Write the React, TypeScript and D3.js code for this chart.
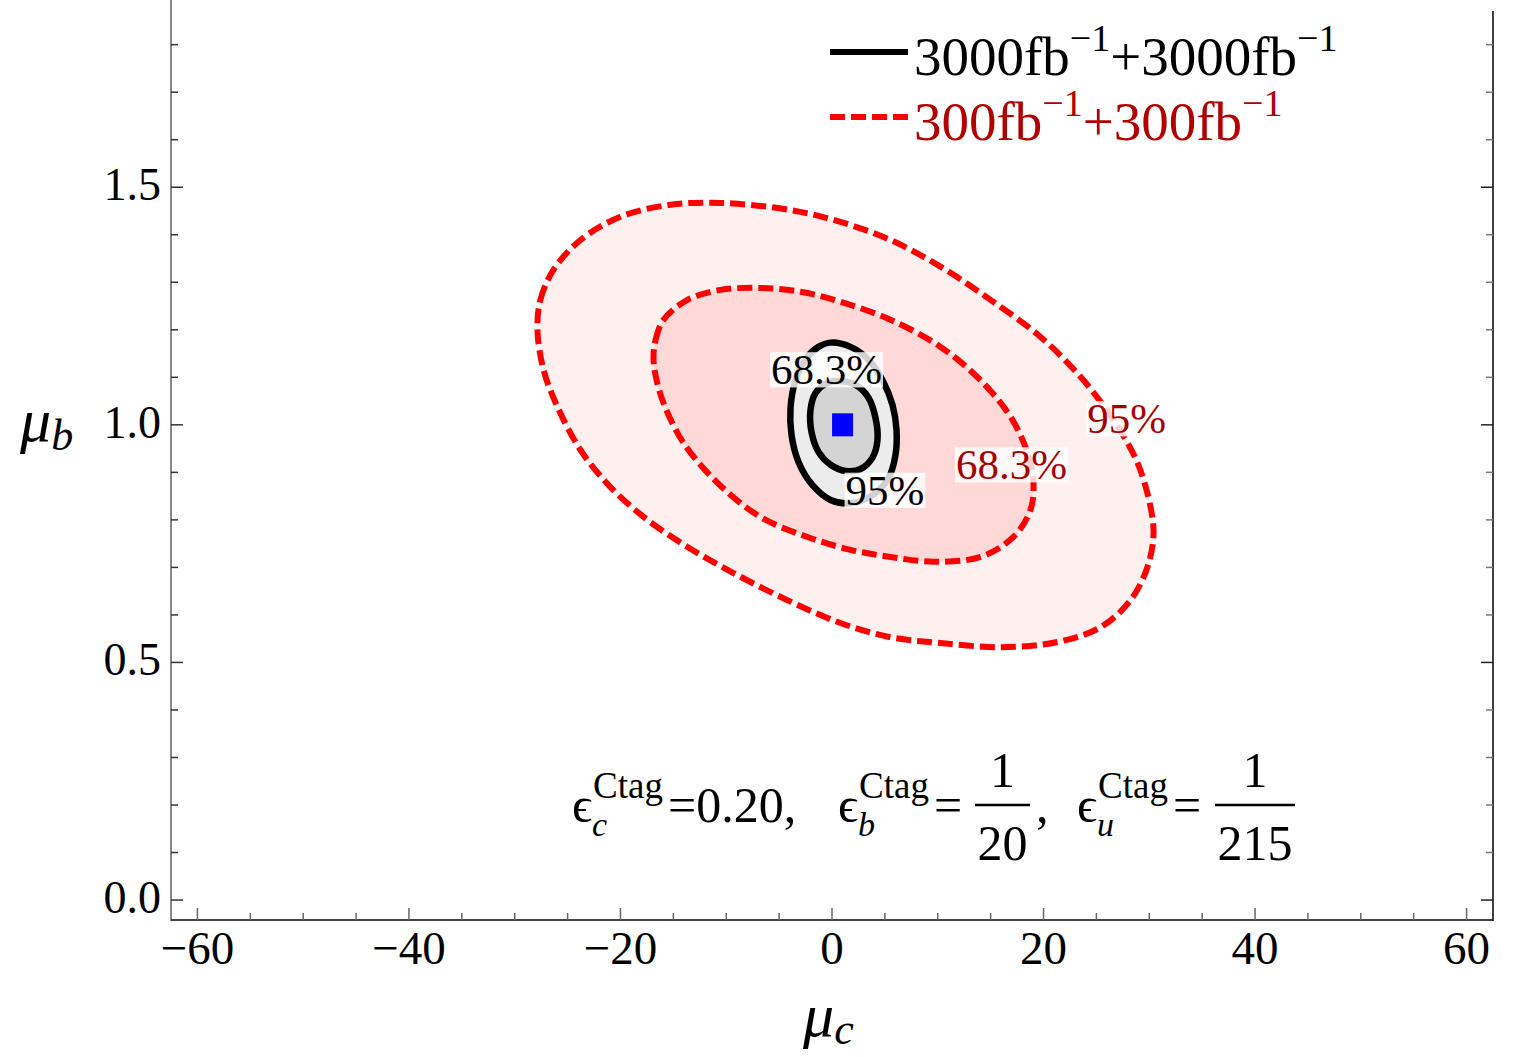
import React, { useEffect, useRef } from 'react';
import * as d3 from 'd3';

const W = 1514;
const H = 1057;
const SERIF = "'Liberation Serif', 'Times New Roman', serif";

// Axis ticks
const xMajorTicks = [-60, -40, -20, 0, 20, 40, 60];
const xTickLabels = ['\u221260', '\u221240', '\u221220', '0', '20', '40', '60'];
const xMinorStep = 5;
const yMajorTicks = [0, 0.5, 1.0, 1.5];
const yTickLabels = ['0.0', '0.5', '1.0', '1.5'];
const yMinorStep = 0.1;

// Best-fit point (mu_c, mu_b)
const bestFit: [number, number] = [1.0, 1.0];

// 300 fb^-1 + 300 fb^-1 : 95% region boundary (mu_c, mu_b)
const red95: [number, number][] = [
  [-27.85, 1.200], [-27.57, 1.263], [-26.34, 1.326], [-23.78, 1.389], [-20.0, 1.438],
  [-15.27, 1.463], [-10.54, 1.467], [-3.92, 1.452], [0.80, 1.427], [5.53, 1.389],
  [10.26, 1.333], [14.99, 1.263], [19.72, 1.185], [23.50, 1.101], [26.62, 1.010],
  [28.89, 0.920], [30.12, 0.827], [30.40, 0.768], [29.83, 0.701], [28.23, 0.631],
  [25.39, 0.574], [21.32, 0.543], [15.93, 0.532], [10.26, 0.541], [5.53, 0.553],
  [0.80, 0.583], [-4.21, 0.631], [-9.31, 0.688], [-13.66, 0.743], [-17.45, 0.800],
  [-20.95, 0.869], [-23.78, 0.947], [-25.96, 1.038], [-27.28, 1.116],
];

// 300 fb^-1 + 300 fb^-1 : 68.3% region boundary
const red68: [number, number][] = [
  [-16.88, 1.142], [-16.69, 1.178], [-15.93, 1.221], [-13.66, 1.263], [-10.54, 1.284],
  [-6.76, 1.288], [-2.98, 1.280], [0.80, 1.259], [5.53, 1.221], [10.26, 1.164],
  [14.04, 1.094], [16.88, 1.017], [18.49, 0.941], [19.05, 0.878], [18.77, 0.821],
  [17.16, 0.764], [14.04, 0.722], [9.60, 0.712], [5.53, 0.722], [1.75, 0.737],
  [-2.32, 0.764], [-6.76, 0.806], [-10.83, 0.878], [-14.04, 0.962], [-15.93, 1.046],
  [-16.69, 1.105],
];

// 3000 fb^-1 + 3000 fb^-1 : 95% region boundary
const black95: [number, number][] = [
  [-0.14, 1.173], [1.75, 1.164], [3.45, 1.137], [4.78, 1.094], [5.72, 1.042],
  [6.10, 0.989], [6.00, 0.936], [5.34, 0.888], [3.83, 0.852], [1.75, 0.835],
  [-0.14, 0.842], [-1.84, 0.873], [-3.17, 0.922], [-3.83, 0.979], [-3.92, 1.036],
  [-3.45, 1.094], [-2.41, 1.141], [-1.28, 1.164],
];

// 3000 fb^-1 + 3000 fb^-1 : 68.3% region boundary
const black68: [number, number][] = [
  [0.61, 1.092], [2.22, 1.084], [3.45, 1.057], [4.11, 1.015], [4.30, 0.968],
  [3.83, 0.931], [2.70, 0.907], [1.28, 0.903], [-0.14, 0.916], [-1.28, 0.943],
  [-1.94, 0.985], [-2.03, 1.032], [-1.56, 1.067], [-0.61, 1.086],
];

// Contour labels: [mu_c, mu_b, text, colour]
const contourLabels: [number, number, string, string][] = [
  [-0.52, 1.1154, '68.3%', '#000000'],
  [5.01, 0.8618, '95%', '#000000'],
  [27.85, 1.0123, '95%', '#a40000'],
  [16.97, 0.9155, '68.3%', '#a40000'],
];

// Legend: integrated luminosities (fb^-1)
const legendLumi = ['3000', '300'];
const legendColors = ['#000000', '#b00000'];
const legendLine = ['#000000', '#ff0000'];

// Tagging efficiencies shown in the annotation
const effFlavours = ['c', 'b', 'u'];

export default function App() {
  const ref = useRef<SVGSVGElement>(null);

  useEffect(() => {
    const svg = d3.select(ref.current);
    svg.selectAll('*').remove();

    const left = 171, right = 1493, top = 0, bottom = 920;
    const x = d3.scaleLinear().domain([-62.5, 62.5]).range([left, right]);
    const y = d3.scaleLinear().domain([-0.042, 1.894]).range([bottom, top]);

    const line = d3
      .line<[number, number]>()
      .x((d) => x(d[0]))
      .y((d) => y(d[1]))
      .curve(d3.curveCatmullRomClosed.alpha(0.5));

    svg.append('rect').attr('width', W).attr('height', H).attr('fill', '#fff');

    // Red (300 fb^-1) regions
    svg.append('path').attr('d', line(red95)).attr('fill', '#fff0f0');
    svg.append('path').attr('d', line(red68)).attr('fill', '#ffd8d8');
    [red95, red68].forEach((c) => {
      svg
        .append('path')
        .attr('d', line(c))
        .attr('fill', 'none')
        .attr('stroke', '#ff0000')
        .attr('stroke-width', 6)
        .attr('stroke-dasharray', '15,6');
    });

    // Black (3000 fb^-1) regions
    svg.append('path').attr('d', line(black95)).attr('fill', '#ececec');
    svg.append('path').attr('d', line(black68)).attr('fill', '#d4d4d4');
    [black95, black68].forEach((c) => {
      svg
        .append('path')
        .attr('d', line(c))
        .attr('fill', 'none')
        .attr('stroke', '#000')
        .attr('stroke-width', 6.5);
    });

    // Contour labels with translucent boxes
    const lfs = 43;
    contourLabels.forEach(([cx, cy, txt, col]) => {
      const px = x(cx);
      const base = y(cy) + 14;
      const g = svg.append('g');
      const rect = g.append('rect');
      const t = g
        .append('text')
        .attr('x', px)
        .attr('y', base)
        .attr('text-anchor', 'middle')
        .attr('font-family', SERIF)
        .attr('font-size', lfs)
        .attr('fill', col)
        .text(txt);
      const bb = (t.node() as SVGTextElement).getBBox();
      rect
        .attr('x', bb.x - 1)
        .attr('y', base - 0.74 * lfs)
        .attr('width', bb.width + 2)
        .attr('height', 0.82 * lfs)
        .attr('fill', '#fff')
        .attr('fill-opacity', 0.82);
    });

    // Best-fit marker
    svg
      .append('rect')
      .attr('x', x(bestFit[0]) - 10.5)
      .attr('y', y(bestFit[1]) - 11.5)
      .attr('width', 21)
      .attr('height', 23)
      .attr('fill', '#0000ff');

    // Frame lines
    svg.append('line').attr('x1', left).attr('x2', left).attr('y1', 0).attr('y2', bottom + 1)
      .attr('stroke', '#888').attr('stroke-width', 2);
    svg.append('line').attr('x1', left).attr('x2', right).attr('y1', bottom).attr('y2', bottom)
      .attr('stroke', '#444').attr('stroke-width', 2);
    svg.append('line').attr('x1', right).attr('x2', right).attr('y1', 11).attr('y2', bottom + 1)
      .attr('stroke', '#111').attr('stroke-width', 1.6);

    // X ticks
    const xMinor = d3.range(-60, 60.001, xMinorStep);
    xMinor.forEach((v) => {
      const major = xMajorTicks.includes(Math.round(v));
      svg.append('line')
        .attr('x1', x(v)).attr('x2', x(v))
        .attr('y1', bottom).attr('y2', bottom - (major ? 12 : 7))
        .attr('stroke', '#666').attr('stroke-width', 1.5);
    });
    xMajorTicks.forEach((v, i) => {
      svg.append('text')
        .attr('x', x(v)).attr('y', 964)
        .attr('text-anchor', 'middle')
        .attr('font-family', SERIF).attr('font-size', 47)
        .attr('fill', '#000')
        .text(xTickLabels[i]);
    });

    // Y ticks (left axis and right frame)
    const yMinor = d3.range(0, 1.9, yMinorStep).filter((v) => y(v) > 5);
    yMinor.forEach((v) => {
      const major = yMajorTicks.some((m) => Math.abs(m - v) < 1e-6);
      const len = major ? 12 : 7;
      svg.append('line')
        .attr('x1', left).attr('x2', left + len)
        .attr('y1', y(v)).attr('y2', y(v))
        .attr('stroke', '#333').attr('stroke-width', 1.5);
      svg.append('line')
        .attr('x1', right).attr('x2', right - len)
        .attr('y1', y(v)).attr('y2', y(v))
        .attr('stroke', major ? '#222' : '#777').attr('stroke-width', 1.5);
    });
    yMajorTicks.forEach((v, i) => {
      svg.append('text')
        .attr('x', 161).attr('y', y(v) + 13)
        .attr('text-anchor', 'end')
        .attr('font-family', SERIF).attr('font-size', 46)
        .attr('fill', '#000')
        .text(yTickLabels[i]);
    });

    // Axis titles
    const xt = svg.append('text')
      .attr('x', 803).attr('y', 1036)
      .attr('font-family', SERIF).attr('font-style', 'italic')
      .attr('font-size', 62).attr('fill', '#000');
    xt.append('tspan').text('\u03bc');
    xt.append('tspan').attr('dy', 8).attr('font-size', 44).text('c');

    const yt = svg.append('text')
      .attr('x', 20).attr('y', 441)
      .attr('font-family', SERIF).attr('font-style', 'italic')
      .attr('font-size', 62).attr('fill', '#000');
    yt.append('tspan').text('\u03bc');
    yt.append('tspan').attr('dy', 9).attr('font-size', 44).text('b');

    // Legend
    const legY = [52, 117];
    legendLumi.forEach((lum, i) => {
      svg.append('line')
        .attr('x1', 830).attr('x2', 908)
        .attr('y1', legY[i]).attr('y2', legY[i])
        .attr('stroke', legendLine[i]).attr('stroke-width', 6)
        .attr('stroke-dasharray', i === 1 ? '15,6' : null);
      const t = svg.append('text')
        .attr('x', 914).attr('y', legY[i] + 23)
        .attr('font-family', SERIF).attr('font-size', 55)
        .attr('fill', legendColors[i]);
      t.append('tspan').text(`${lum}fb`);
      t.append('tspan').attr('dy', -24).attr('font-size', 38).text('\u22121');
      t.append('tspan').attr('dy', 24).text(`+${lum}fb`);
      t.append('tspan').attr('dy', -24).attr('font-size', 38).text('\u22121');
    });

    // Tagging efficiencies annotation: each epsilon with its super/subscript is one text
    const ann = svg.append('g').attr('font-family', SERIF).attr('fill', '#000');
    const base = 822;
    const eps = (x0: number, sub: string, tail: string) => {
      const t = ann.append('text').attr('x', x0).attr('y', base).attr('font-size', 50);
      t.append('tspan').text('\u03f5');
      t.append('tspan').attr('x', x0 + 21).attr('dy', -24).attr('font-size', 37).text('Ctag');
      t.append('tspan').attr('x', x0 + 20).attr('dy', 38).attr('font-size', 34)
        .attr('font-style', 'italic').text(sub);
      t.append('tspan').attr('x', x0 + 96).attr('dy', -14).text(tail);
    };
    const frac = (x0: number, x1: number, num: string, den: string) => {
      const cx = (x0 + x1) / 2;
      ann.append('line').attr('x1', x0).attr('x2', x1).attr('y1', 805).attr('y2', 805)
        .attr('stroke', '#000').attr('stroke-width', 2.5);
      ann.append('text').attr('x', cx).attr('y', 787).attr('text-anchor', 'middle')
        .attr('font-size', 50).text(num);
      ann.append('text').attr('x', cx).attr('y', 860).attr('text-anchor', 'middle')
        .attr('font-size', 50).text(den);
    };
    eps(572, effFlavours[0], '=0.20,');
    eps(838, effFlavours[1], '=');
    frac(975, 1030, '1', '20');
    ann.append('text').attr('x', 1036).attr('y', base).attr('font-size', 50).text(',');
    eps(1077, effFlavours[2], '=');
    frac(1215, 1295, '1', '215');
  }, []);

  return (
    <svg
      ref={ref}
      width={W}
      height={H}
      style={{ position: 'absolute', left: 0, top: 0, display: 'block' }}
    />
  );
}
